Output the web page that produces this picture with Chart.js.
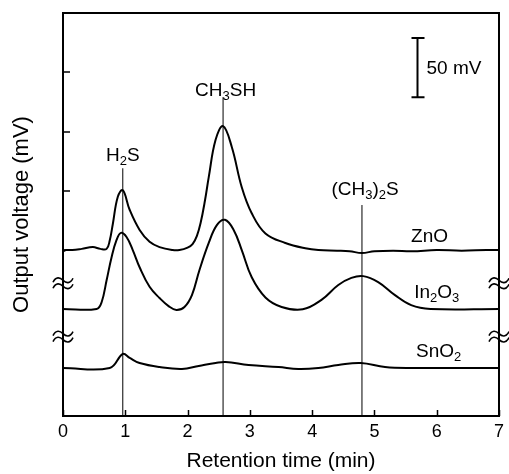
<!DOCTYPE html>
<html><head><meta charset="utf-8">
<script src="https://cdn.jsdelivr.net/npm/chart.js@4.4.1/dist/chart.umd.min.js"></script>
<style>html,body{margin:0;padding:0;background:#fff;}</style>
</head><body>
<canvas id="c" width="509" height="474"></canvas>
<script>
// ---- data (retention time in min, output voltage in mV on a stacked/offset axis) ----
const xTicks = [0, 1, 2, 3, 4, 5, 6, 7];
const yTickLevels = [140, 190, 240, 290, 340];

const znoTime   = [0, 0.05, 0.15, 0.3, 0.48, 0.6, 0.7, 0.75, 0.8, 0.88, 0.96, 1.07, 1.23, 1.39, 1.55, 1.76, 1.87, 2.0, 2.08, 2.15, 2.21, 2.28, 2.34, 2.45, 2.57, 2.71, 2.87, 3.03, 3.25, 3.57, 3.89, 4.1, 4.4, 4.6, 4.8, 5.0, 5.3, 5.6, 6.0, 6.4, 6.8, 7.0];
const znoValues = [139, 140, 140, 141, 142.5, 141, 141, 148, 162, 185, 190.5, 174, 157, 147, 142.5, 140, 140, 142, 145, 152, 163, 182, 201.5, 233, 244.5, 227, 193, 171, 154, 146, 141.5, 140, 139.5, 139, 137.5, 139, 139.5, 139, 140, 139.5, 140, 140];

const inTime   = [0, 0.54, 0.62, 0.70, 0.78, 0.86, 0.93, 1.02, 1.12, 1.23, 1.39, 1.55, 1.70, 1.82, 1.95, 2.07, 2.19, 2.34, 2.47, 2.6, 2.74, 2.87, 3.03, 3.25, 3.51, 3.85, 4.15, 4.42, 4.63, 4.82, 5.06, 5.33, 5.59, 5.9, 7.0];
const inValues = [90.3, 90.3, 96, 114.5, 134, 148.5, 154.5, 151, 140, 125.5, 109, 99.5, 92.5, 89.5, 92, 102, 123, 146, 161, 165.5, 157, 140, 117, 100, 92, 90, 98, 110.5, 116.5, 118, 113, 102, 93.5, 90.3, 90.3];

const snTime   = [0, 0.75, 0.96, 1.07, 1.23, 1.55, 1.91, 2.18, 2.45, 2.61, 2.98, 3.46, 3.78, 4.1, 4.42, 4.78, 5.17, 5.59, 7.0];
const snValues = [40.5, 40.5, 52.3, 49, 44.7, 41.3, 39.7, 42.2, 44.7, 45.6, 43, 41.3, 39.7, 40.5, 43, 44.7, 41.3, 40.5, 40.5];

const peakNames = ['H_2S', 'CH_3SH', '(CH_3)_2S'];
const peakTimes = [0.96, 2.57, 4.80];
const peakLineTops = [209, 269, 178];
const peakLabelX = [0.96, 2.61, 4.85];
const peakLabelY = [221, 276, 192];

const seriesNames = ['ZnO', 'In_2O_3', 'SnO_2'];
const seriesLabelX = [5.885, 6.0, 6.03];
const seriesLabelY = [152.7, 105.5, 55.7];

const breakLevels = [112, 67];
const scaleBarTime = 5.68;
const scaleBarFrom = 269, scaleBarTo = 319;
const scaleBarText = '50 mV';

const FAM = '"Liberation Sans", Arial, Helvetica, sans-serif';

function pts(t, v) { return t.map((x, i) => ({x: x, y: v[i]})); }
const curve = (label, t, v) => ({label, data: pts(t, v), borderColor: '#000', borderWidth: 2, pointRadius: 0, fill: false, tension: 0.4});
const datasets = [
  curve('ZnO', znoTime, znoValues),
  curve('In2O3', inTime, inValues),
  curve('SnO2', snTime, snValues)
];
peakTimes.forEach((t, i) => datasets.push({label: 'ref' + i, data: [{x: t, y: 0}, {x: t, y: peakLineTops[i]}], borderColor: '#000', borderWidth: 1, pointRadius: 0, tension: 0}));

function drawRich(ctx, str, cx, cy, size, align) {
  // "_" followed by one char => subscript
  const parts = [];
  for (let i = 0; i < str.length; i++) {
    if (str[i] === '_') { parts.push({t: str[i + 1], sub: true}); i++; }
    else parts.push({t: str[i], sub: false});
  }
  const subSize = Math.round(size * 0.7);
  let w = 0;
  parts.forEach(p => { ctx.font = (p.sub ? subSize : size) + 'px ' + FAM; p.w = ctx.measureText(p.t).width; w += p.w; });
  let x = align === 'left' ? cx : cx - w / 2;
  ctx.textBaseline = 'alphabetic';
  ctx.textAlign = 'left';
  const base = cy + size * 0.36;
  parts.forEach(p => {
    ctx.font = (p.sub ? subSize : size) + 'px ' + FAM;
    ctx.fillText(p.t, x, p.sub ? base + size * 0.22 : base);
    x += p.w;
  });
}

const decor = {
  id: 'decor',
  afterDatasetsDraw(chart) {
    const {ctx, chartArea: a, scales: {x, y}} = chart;
    ctx.save();
    ctx.strokeStyle = '#000'; ctx.fillStyle = '#000';
    // frame
    ctx.lineWidth = 2;
    ctx.strokeRect(a.left, a.top, a.right - a.left, a.bottom - a.top);
    // inner ticks
    ctx.lineWidth = 1.5;
    ctx.beginPath();
    xTicks.forEach(v => { const px = Math.round(x.getPixelForValue(v)) + 0.5; ctx.moveTo(px, a.bottom); ctx.lineTo(px, a.bottom - 6); });
    yTickLevels.forEach(v => { const py = Math.round(y.getPixelForValue(v)); ctx.moveTo(a.left, py); ctx.lineTo(a.left + 7, py); });
    ctx.stroke();
    // axis breaks
    ctx.lineWidth = 1.6;
    breakLevels.forEach(v => {
      const cy = y.getPixelForValue(v);
      [a.left, a.right].forEach(cx => {
        [-3, 3].forEach(d => {
          const yy = cy + d;
          ctx.beginPath();
          ctx.moveTo(cx - 10, yy + 2);
          ctx.bezierCurveTo(cx - 7, yy - 4, cx - 3, yy - 3, cx, yy);
          ctx.bezierCurveTo(cx + 3, yy + 3, cx + 7, yy + 4, cx + 10, yy - 2);
          ctx.stroke();
        });
      });
    });
    // scale bar
    const bx = Math.round(x.getPixelForValue(scaleBarTime)) + 0.5;
    const b1 = y.getPixelForValue(scaleBarFrom), b2 = y.getPixelForValue(scaleBarTo);
    ctx.lineWidth = 2;
    ctx.beginPath();
    ctx.moveTo(bx, b1); ctx.lineTo(bx, b2);
    ctx.moveTo(bx - 6, b1); ctx.lineTo(bx + 7, b1);
    ctx.moveTo(bx - 6, b2); ctx.lineTo(bx + 7, b2);
    ctx.stroke();
    drawRich(ctx, scaleBarText, bx + 9, (b1 + b2) / 2, 19, 'left');
    // peak labels
    peakNames.forEach((n, i) => drawRich(ctx, n, x.getPixelForValue(peakLabelX[i]), y.getPixelForValue(peakLabelY[i]), 19, 'center'));
    // series labels
    seriesNames.forEach((n, i) => drawRich(ctx, n, x.getPixelForValue(seriesLabelX[i]), y.getPixelForValue(seriesLabelY[i]), 19, 'center'));
    ctx.restore();
  }
};

new Chart(document.getElementById('c'), {
  type: 'line',
  data: {datasets},
  plugins: [decor],
  options: {
    responsive: false, animation: false, devicePixelRatio: 1,
    layout: {padding: {top: 13, right: 7, left: 0, bottom: 0}},
    plugins: {legend: {display: false}, tooltip: {enabled: false}},
    scales: {
      x: {
        type: 'linear', min: 0, max: 7,
        afterBuildTicks: s => { s.ticks = xTicks.map(v => ({value: v})); },
        ticks: {font: {size: 18, family: FAM}, color: '#000', padding: 5, maxRotation: 0},
        grid: {display: false, drawTicks: false}, border: {display: false},
        title: {display: true, text: 'Retention time (min)', font: {size: 21, family: FAM}, color: '#000', padding: {top: 0, bottom: 0}},
        afterFit: s => { s.height = 58; }
      },
      y: {
        type: 'linear', min: 0, max: 340,
        afterBuildTicks: s => { s.ticks = yTickLevels.map(v => ({value: v})); },
        ticks: {display: false},
        grid: {display: false, drawTicks: false}, border: {display: false},
        title: {display: true, text: 'Output voltage (mV)', font: {size: 22, family: FAM}, color: '#000', padding: {top: 9, bottom: 0}},
        afterFit: s => { s.width = 63; }
      }
    }
  }
});
</script>
</body></html>
